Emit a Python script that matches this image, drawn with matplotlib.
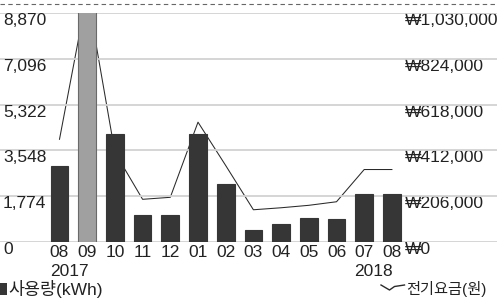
import matplotlib
matplotlib.use('Agg')
import matplotlib.pyplot as plt
from matplotlib.lines import Line2D
from matplotlib.patches import Rectangle
from matplotlib.transforms import blended_transform_factory as btf

plt.rcParams['font.family'] = ['Liberation Sans', 'Noto Sans CJK KR', 'DejaVu Sans']

# ---- data ----
months = ['08', '09', '10', '11', '12', '01', '02', '03', '04', '05', '06', '07', '08']
usage_kwh = [2936, 9800, 4199, 1053, 1053, 4199, 2237, 463, 694, 925, 887, 1878, 1878]
cost_won = [462000, 1118000, 403000, 192000, 201000, 539000, 344000, 145000,
            154000, 165000, 181000, 326000, 326000]
left_ticks = [0, 1774, 3548, 5322, 7096, 8870]
right_ticks = [0, 206000, 412000, 618000, 824000, 1030000]
year_pos = [0, 11]
year_text = ['2017', '2018']
highlight = 1
legend_usage = '사용량(kWh)'
legend_cost = '전기요금(원)'

W, H = 497, 301
FS = 12.5
TXT = '#222222'

fig = plt.figure(figsize=(W / 100, H / 100), dpi=100)
fig.patch.set_facecolor('white')
ax = fig.add_axes([0, 59 / H, 1, (242 - 13) / H])
ax2 = ax.twinx()

xs = list(range(len(months)))
colors = ['#a0a0a0' if i == highlight else '#363636' for i in xs]
edges = ['#6a6a6a' if i == highlight else '#363636' for i in xs]
ax.bar(xs, usage_kwh, width=0.64, color=colors, edgecolor=edges, linewidth=0.8, zorder=3)
ax.set_ylim(0, left_ticks[-1])
ax.set_xlim(-59.5 / 27.7, (W - 59.5) / 27.7)

for v in left_ticks:
    ax.axhline(v, color='#d2d2d2', lw=1.3, zorder=0)

ax2.plot(xs, cost_won, color='#2a2a2a', lw=0.75)
ax2.set_ylim(0, right_ticks[-1])

ax.set_zorder(ax2.get_zorder() + 1)
ax.patch.set_visible(False)

for a in (ax, ax2):
    for s in a.spines.values():
        s.set_visible(False)
    a.set_yticks([])
ax2.set_xticks([])
ax.set_xticks(xs, months)
ax.tick_params(axis='x', length=0, pad=2, labelsize=FS, labelcolor=TXT)

tl = btf(ax.transAxes, ax.transData)
for v in left_ticks:
    ax.text(3 / W, v, f'{v:,}', transform=tl, ha='left', va='top', fontsize=FS, color=TXT)
tr = btf(ax2.transAxes, ax2.transData)
for v in right_ticks:
    ax2.text(405 / W, v, f'₩{v:,}', transform=tr, ha='left', va='top', fontsize=FS, color=TXT)

ty = btf(ax.transData, fig.transFigure)
for p, t in zip(year_pos, year_text):
    ax.text(p - 0.35, 1 - 272 / H, t, transform=ty, ha='left', va='center', fontsize=FS, color=TXT)

# top dashed border
fig.add_artist(Line2D([0, 1], [1 - 4 / H, 1 - 4 / H], transform=fig.transFigure,
                      color='#666666', lw=0.8, dashes=(4, 3)))

# legends
fig.add_artist(Rectangle((0, 1 - 295 / H), 6.5 / W, 12 / H, transform=fig.transFigure,
                         facecolor='#363636', edgecolor='none'))
fig.text(8 / W, 1 - 289 / H, legend_usage, ha='left', va='center', fontsize=FS, color=TXT)
fig.add_artist(Line2D([381 / W, 389.5 / W, 394.5 / W, 404.5 / W],
                      [1 - 285 / H, 1 - 290 / H, 1 - 286.5 / H, 1 - 285 / H],
                      transform=fig.transFigure, color='#2a2a2a', lw=1.0))
fig.text(406 / W, 1 - 289 / H, legend_cost, ha='left', va='center', fontsize=11, color=TXT)

fig.savefig('out.png', dpi=100)
